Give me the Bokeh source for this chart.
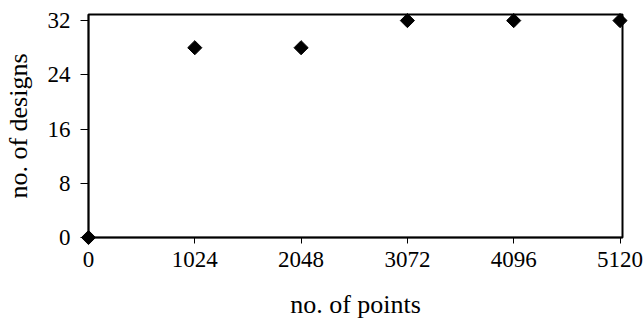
import math
from bokeh.plotting import figure
from bokeh.models import FixedTicker, Range1d, ColumnDataSource
from bokeh.embed import file_html
from bokeh.resources import INLINE

# data
points = [0, 1024, 2048, 3072, 4096, 5120]
designs = [0, 28, 28, 32, 32, 32]
x_ticks = [0, 1024, 2048, 3072, 4096, 5120]
y_ticks = [0, 8, 16, 24, 32]

FONT = "Liberation Serif"

p = figure(width=643, height=321, output_backend="svg", toolbar_location=None,
           x_range=Range1d(0, 5144), y_range=Range1d(0, 32.9),
           min_border_left=88, min_border_right=21, min_border_top=14, min_border_bottom=84)

src = ColumnDataSource(dict(x=points, y=designs))
r = p.scatter("x", "y", source=src, marker="square", size=10, angle=math.pi / 4,
              fill_color="black", line_color="black")
r.level = "overlay"

p.xgrid.visible = False
p.ygrid.visible = False
p.outline_line_color = "black"
p.outline_line_width = 2
p.background_fill_color = "white"
p.border_fill_color = "white"

p.xaxis.ticker = FixedTicker(ticks=x_ticks)
p.yaxis.ticker = FixedTicker(ticks=y_ticks)

for ax in (p.xaxis[0], p.yaxis[0]):
    ax.axis_line_color = "black"
    ax.axis_line_width = 1.5
    ax.major_tick_line_color = "black"
    ax.major_tick_line_width = 1
    ax.major_tick_in = 0
    ax.minor_tick_line_color = None
    ax.major_label_text_font = FONT
    ax.major_label_text_font_size = "23px"
    ax.major_label_text_color = "black"
    ax.axis_label_text_font = FONT
    ax.axis_label_text_font_size = "26px"
    ax.axis_label_text_font_style = "normal"
    ax.axis_label_text_color = "black"

p.xaxis.major_tick_out = 6
p.yaxis.major_tick_out = 8
p.xaxis.major_label_standoff = 8
p.yaxis.major_label_standoff = 10
p.xaxis.axis_label = "no. of points"
p.yaxis.axis_label = "no. of designs"
p.xaxis.axis_label_standoff = 20
p.yaxis.axis_label_standoff = 12

open("out.html", "w").write(file_html(p, INLINE))
